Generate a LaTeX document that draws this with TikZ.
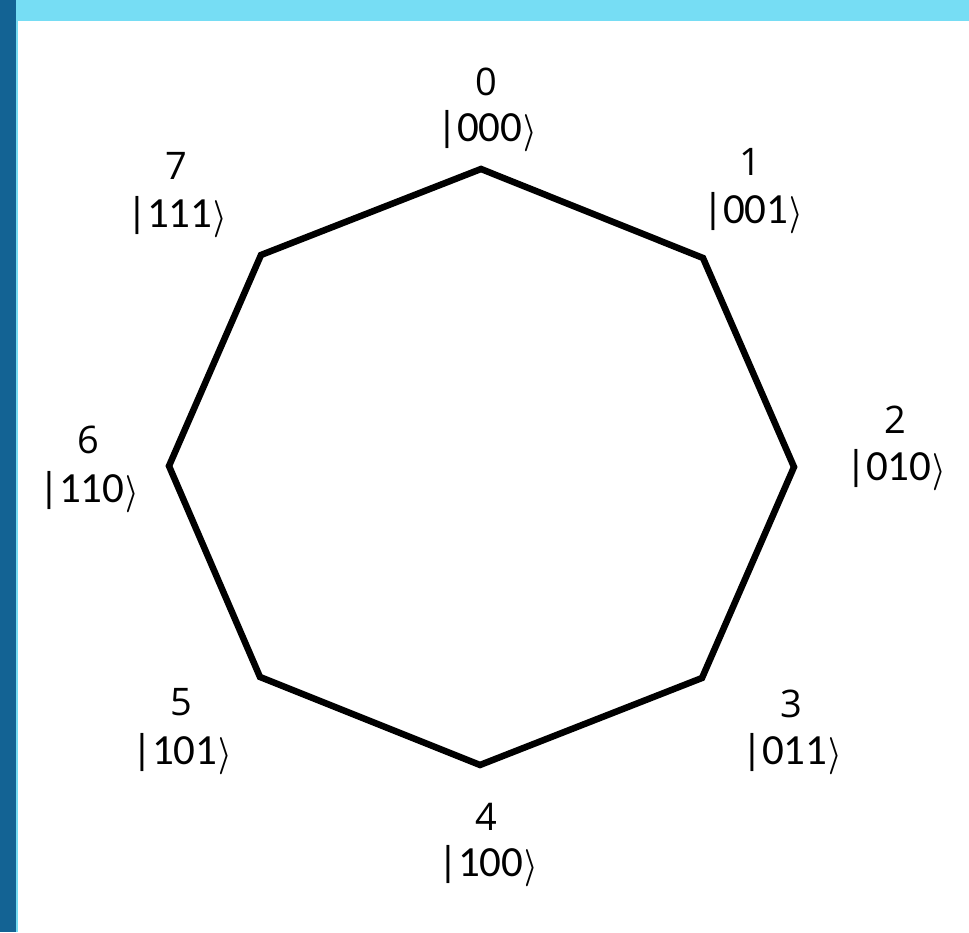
\documentclass[tikz,border=0pt]{standalone}
\usepackage{fontspec}
\usepackage{graphicx}
\setmainfont{Carlito}
\newfontfamily\numfont{Open Sans}
\definecolor{darkband}{HTML}{136394}
\definecolor{lightband}{HTML}{76DDF4}
\tikzset{
  numlbl/.style={font=\numfont\fontsize{38}{40}\selectfont, inner sep=0pt, anchor=center},
  ketlbl/.style={font=\fontsize{43}{46}\selectfont, inner sep=0pt, anchor=center},
  octline/.style={line width=6.5pt, line join=miter, black}
}
\newcommand{\myket}[1]{|#1\kern1pt\raisebox{-1pt}{\scalebox{1.2}[1.5]{\boldmath$\rangle$}}}
\begin{document}
\begin{tikzpicture}[x=1pt,y=1pt]
\useasboundingbox (0,0) rectangle (969,932);
\fill[white] (0,0) rectangle (969,932);
\fill[lightband] (16,0) rectangle (18,932);
\fill[lightband] (16,911) rectangle (969,932);
\fill[darkband] (0,0) rectangle (16,932);
% vertices (image y flipped)
\coordinate (v0) at (481,763);
\coordinate (v1) at (703,674);
\coordinate (v2) at (794,465);
\coordinate (v3) at (702,254);
\coordinate (v4) at (480,167);
\coordinate (v5) at (260,255);
\coordinate (v6) at (169,466);
\coordinate (v7) at (261,677);
\draw[octline] (v0) -- (v1) -- (v2) -- (v3) -- (v4) -- (v5) -- (v6) -- (v7) -- cycle;
% labels
\node[numlbl] (n0) at (486,850) {0};
\node[ketlbl] (k0) at (487,801) {\myket{000}};
\node[numlbl] (n1) at (750,770) {1};
\node[ketlbl] (k1) at (753,719) {\myket{001}};
\node[numlbl] (n2) at (895,512) {2};
\node[ketlbl] (k2) at (896,462) {\myket{010}};
\node[numlbl] (n3) at (791,228) {3};
\node[ketlbl] (k3) at (792,178) {\myket{011}};
\node[numlbl] (n4) at (486,115) {4};
\node[ketlbl] (k4) at (488,66) {\myket{100}};
\node[numlbl] (n5) at (181,230) {5};
\node[ketlbl] (k5) at (182,178) {\myket{101}};
\node[numlbl] (n6) at (88,492) {6};
\node[ketlbl] (k6) at (89,440) {\myket{110}};
\node[numlbl] (n7) at (176,766) {7};
\node[ketlbl] (k7) at (177,715) {\myket{111}};
\end{tikzpicture}
\end{document}
